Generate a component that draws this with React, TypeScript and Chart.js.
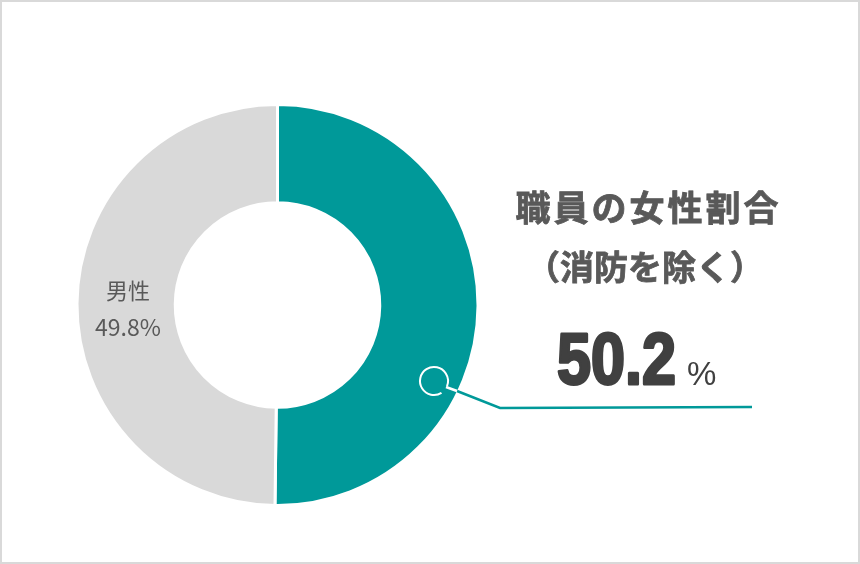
import { useEffect, useRef } from 'react'
import { Chart, registerables, Plugin } from 'chart.js'

Chart.register(...registerables)

const categories = ['女性', '男性']
const shares = [50.2, 49.8]
const sliceColors = ['#009999', '#d9d9d9']
const titleLines = ['職員の女性割合', '（消防を除く）']

const TEXT = '#595959'
const DARK = '#404040'

const overlay: Plugin<'doughnut'> = {
  id: 'overlay',
  afterDraw(chart) {
    const { ctx } = chart
    ctx.save()

    // frame
    ctx.strokeStyle = '#d9d9d9'
    ctx.lineWidth = 2
    ctx.strokeRect(1, 1, chart.width - 2, chart.height - 2)

    // label for the grey slice
    ctx.fillStyle = TEXT
    ctx.textAlign = 'center'
    ctx.textBaseline = 'middle'
    ctx.font = '22px "Noto Sans CJK JP", "Noto Sans", sans-serif'
    ctx.fillText(categories[1], 128, 291)
    ctx.font = '23px "Noto Sans CJK JP", "Noto Sans", sans-serif'
    ctx.fillText(shares[1].toFixed(1) + '%', 128, 327)

    // callout for the teal slice
    ctx.strokeStyle = '#ffffff'
    ctx.lineWidth = 2
    ctx.beginPath()
    ctx.arc(434, 381, 14, Math.PI * 0.32, Math.PI * 2.12)
    ctx.stroke()

    ctx.strokeStyle = '#009999'
    ctx.lineWidth = 2.5
    ctx.beginPath()
    ctx.moveTo(457, 391)
    ctx.lineTo(500, 408)
    ctx.lineTo(752, 407)
    ctx.stroke()
    ctx.strokeStyle = '#ffffff'
    ctx.beginPath()
    ctx.moveTo(446, 387)
    ctx.lineTo(457, 391)
    ctx.stroke()

    // title
    ctx.fillStyle = TEXT
    ctx.strokeStyle = TEXT
    ctx.lineWidth = 0.8
    ctx.textAlign = 'left'
    ctx.textBaseline = 'middle'
    ctx.font = 'bold 35px "Noto Sans CJK JP", sans-serif'
    ;(ctx as any).letterSpacing = '3px'
    const w1 = ctx.measureText(titleLines[0]).width - 3
    ctx.fillText(titleLines[0], 647 - w1 / 2, 208)
    ctx.strokeText(titleLines[0], 647 - w1 / 2, 208)
    ;(ctx as any).letterSpacing = '0px'
    ctx.font = 'bold 34px "Noto Sans CJK JP", sans-serif'
    const w2 = ctx.measureText(titleLines[1]).width
    ctx.fillText(titleLines[1], 645 - w2 / 2, 267)
    ctx.strokeText(titleLines[1], 645 - w2 / 2, 267)

    // big value, condensed
    ctx.fillStyle = DARK
    ctx.strokeStyle = DARK
    ctx.textAlign = 'left'
    ctx.textBaseline = 'alphabetic'
    ctx.font = 'bold 72px "Liberation Sans", Arial, sans-serif'
    const big = shares[0].toFixed(1)
    const bw = ctx.measureText(big).width
    ctx.save()
    ctx.translate(557, 384)
    ctx.scale(119 / bw, 1)
    ctx.lineWidth = 3
    ctx.lineJoin = 'round'
    ctx.fillText(big, 0, 0)
    ctx.strokeText(big, 0, 0)
    ctx.restore()
    ctx.font = '33px "Liberation Sans", Arial, sans-serif'
    ctx.fillText('%', 687, 385)

    ctx.restore()
  },
}

export default function App() {
  const canvasRef = useRef<HTMLCanvasElement>(null)
  const chartRef = useRef<Chart | null>(null)

  useEffect(() => {
    document.body.style.margin = '0'
    if (!canvasRef.current) return
    if (chartRef.current) chartRef.current.destroy()

    chartRef.current = new Chart(canvasRef.current, {
      type: 'doughnut',
      data: {
        labels: categories,
        datasets: [
          {
            data: shares,
            backgroundColor: sliceColors,
            borderColor: '#ffffff',
            borderWidth: 3,
          },
        ],
      },
      options: {
        responsive: false,
        animation: false,
        cutout: '51%',
        layout: { padding: { left: 75, top: 103, right: 380, bottom: 57 } },
        plugins: { legend: { display: false }, tooltip: { enabled: false } },
      },
      plugins: [overlay],
    })

    return () => { chartRef.current?.destroy() }
  }, [])

  return (
    <div style={{ position: 'relative', width: 860, height: 564, background: '#fff' }}>
      <canvas ref={canvasRef} width={860} height={564} />
    </div>
  )
}
